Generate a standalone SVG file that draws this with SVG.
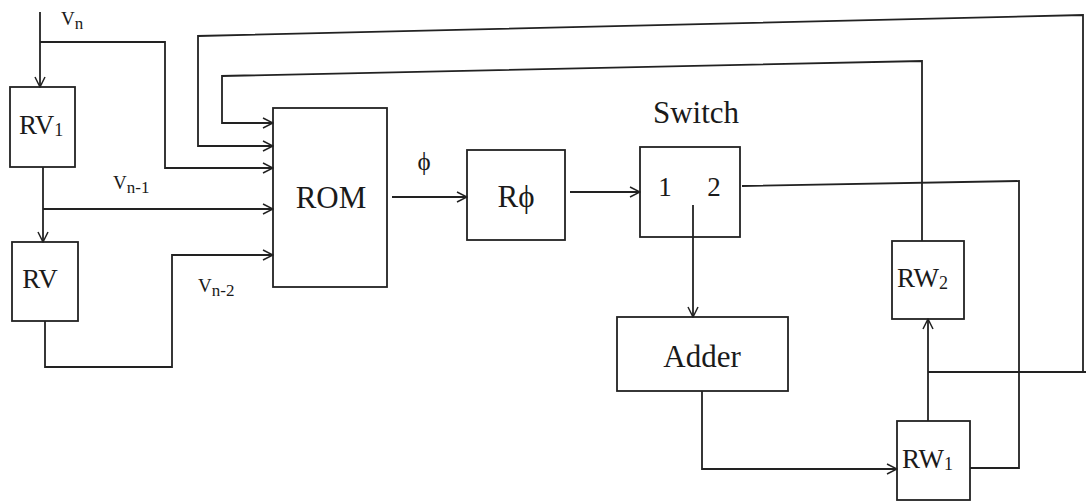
<svg xmlns="http://www.w3.org/2000/svg" width="1086" height="502" viewBox="0 0 1086 502">
<defs>
<marker id="arr" viewBox="0 0 12 12" refX="11" refY="6" markerWidth="12" markerHeight="12" markerUnits="userSpaceOnUse" orient="auto">
<path d="M1,1 L11,6 L1,11" fill="none" stroke="#222" stroke-width="1.5"/>
</marker>
</defs>
<style>
.box{fill:none;stroke:#222;stroke-width:1.8}
.ln{fill:none;stroke:#222;stroke-width:1.8}
.ar{fill:none;stroke:#222;stroke-width:1.8;marker-end:url(#arr)}
text{font-family:"Liberation Serif","DejaVu Serif",serif;fill:#1a1a1a}
.big{font-size:31px}
.mid{font-size:27px}
.sm{font-size:19px}
</style>
<rect width="1086" height="502" fill="#fff"/>
<g id="connectors">
<path class="ar" d="M40,12 L40,87"/>
<path class="ar" d="M40,42 L165,42 L165,168 L273,168"/>
<path class="ar" d="M928,372 L1083,372 L1083,15 L198,36 L198,146 L273,146"/>
<path class="ln" d="M928,372 L1086,372"/>
<path class="ar" d="M922,241 L922,61 L222,76 L222,123 L273,123"/>
<path class="ar" d="M43,167 L43,242"/>
<path class="ar" d="M43,209 L273,209"/>
<path class="ar" d="M45,321 L45,367 L172,367 L172,255 L273,255"/>
<path class="ar" d="M392,197 L467,197"/>
<path class="ar" d="M570,192 L640,192"/>
<path class="ar" d="M693,205 L693,317"/>
<path class="ln" d="M742,186 L1019,181 L1019,468 L970,468"/>
<path class="ar" d="M702,391 L702,469 L897,469"/>
<path class="ar" d="M928,421 L928,319"/>
</g>
<g id="labels">
<text x="61" y="25" class="sm">V<tspan dy="4" font-size="17">n</tspan></text>
<text x="113" y="189" class="sm">V<tspan dy="4" font-size="17">n-1</tspan></text>
<text x="198" y="292" class="sm">V<tspan dy="4" font-size="17">n-2</tspan></text>
<text x="424" y="170" text-anchor="middle" font-size="25">ϕ</text>
<text x="696" y="123" text-anchor="middle" class="big">Switch</text>
</g>
<g id="RV1">
<rect class="box" x="10" y="87" width="65" height="80"/>
<text x="19" y="134" class="mid">RV<tspan font-size="18" dy="2">1</tspan></text>
</g>
<g id="RV">
<rect class="box" x="12" y="242" width="66" height="79"/>
<text x="40" y="288" text-anchor="middle" class="mid">RV</text>
</g>
<g id="ROM">
<rect class="box" x="273" y="108" width="114" height="179"/>
<text x="331" y="208" text-anchor="middle" class="big">ROM</text>
</g>
<g id="Rphi">
<rect class="box" x="467" y="150" width="98" height="90"/>
<text x="516" y="207" text-anchor="middle" class="big">Rϕ</text>
</g>
<g id="Switch">
<rect class="box" x="640" y="147" width="100" height="90"/>
<text x="665" y="196" text-anchor="middle" class="mid">1</text>
<text x="714" y="196" text-anchor="middle" class="mid">2</text>
</g>
<g id="Adder">
<rect class="box" x="617" y="317" width="171" height="74"/>
<text x="702" y="367" text-anchor="middle" class="big">Adder</text>
</g>
<g id="RW2">
<rect class="box" x="892" y="241" width="72" height="78"/>
<text x="897" y="287" class="mid">RW<tspan font-size="18" dy="2">2</tspan></text>
</g>
<g id="RW1">
<rect class="box" x="897" y="421" width="73" height="79"/>
<text x="902" y="468" class="mid">RW<tspan font-size="18" dy="2">1</tspan></text>
</g>
</svg>
